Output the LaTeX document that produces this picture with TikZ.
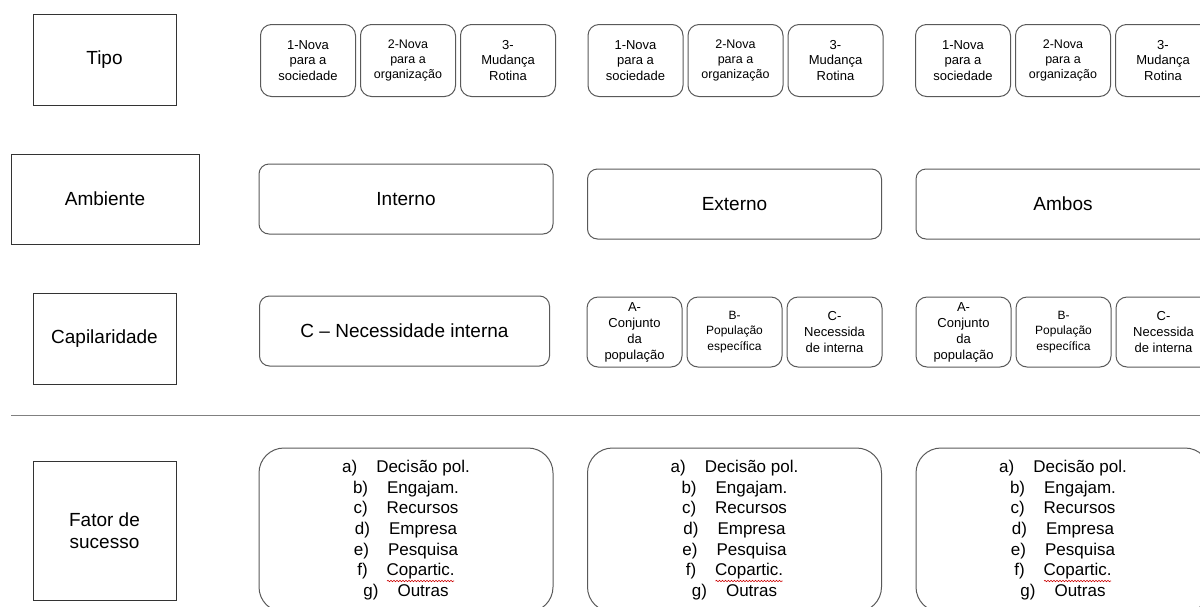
\documentclass[tikz,border=0pt]{standalone}
\usepackage{fontspec}
\setmainfont{Liberation Sans}
\usetikzlibrary{positioning,decorations.pathmorphing}

\begin{document}
\begin{tikzpicture}[x=1pt,y=-1pt,line width=1pt,
    cat/.style={draw=black!80,rectangle,inner sep=0pt,align=center,
      font=\fontsize{19}{22}\selectfont},
    opt/.style={draw=black!65,rounded corners=11pt,inner sep=0pt,align=center,
      minimum width=95pt,minimum height=72pt,font=\fontsize{13}{15.5}\selectfont},
    wide/.style={draw=black!65,rounded corners=10pt,inner sep=0pt,
      minimum width=294pt,minimum height=70pt,font=\fontsize{19}{22}\selectfont},
    fat/.style={draw=black!65,rounded corners=25pt,inner sep=0pt,align=center,
      minimum width=294pt,minimum height=164pt,font=\fontsize{17}{20.6}\selectfont}]

  \useasboundingbox (0,0) rectangle (1200,606);
  \clip (0,0) rectangle (1200,606);

  \node[cat,minimum width=143pt,minimum height=91pt] (tipo) at (104.5,59.5) {Tipo};
  \node[cat,minimum width=188pt,minimum height=90pt] (amb) at (105,199) {Ambiente};
  \node[cat,minimum width=143pt,minimum height=91pt] (cap) at (104.5,338.5) {Capilaridade};
  \node[cat,minimum width=143pt,minimum height=139pt] (fat) at (104.5,530.5) {Fator de\\sucesso};

  \coordinate (sepL) at (11,415);
  \coordinate (sepR) at (1200,415);
  \draw[black!50] (sepL) -- (sepR);

  \foreach \g/\x in {1/308,2/635.5,3/963}{
    \node[opt] (tipo\g-1) at (\x,60.5) {1-Nova\\para a\\sociedade};
    \node[opt,right=4pt of tipo\g-1,font=\fontsize{12.5}{15}\selectfont] (tipo\g-2)
      {2-Nova\\para a\\organização};
    \node[opt,right=4pt of tipo\g-2] (tipo\g-3) {3-\\Mudança\\Rotina};
  }

  \node[wide] (interno) at (406,199) {Interno};
  \node[wide] (externo) at (734.5,204) {Externo};
  \node[wide] (ambos) at (1063,204) {Ambos};

  \node[wide,minimum width=290pt] (necint) at (404.5,331) {C – Necessidade interna};
  \foreach \g/\x in {2/634.5,3/963.5}{
    \node[opt,minimum height=70pt,font=\fontsize{13}{16}\selectfont] (cap\g-a) at (\x,332)
      {A-\\Conjunto\\da\\população};
    \node[opt,minimum height=70pt,right=4pt of cap\g-a,font=\fontsize{12}{15.5}\selectfont] (cap\g-b)
      {B-\\População\\específica};
    \node[opt,minimum height=70pt,right=4pt of cap\g-b,font=\fontsize{13}{16}\selectfont] (cap\g-c)
      {C-\\Necessida\\de interna};
  }

  \foreach \g/\x in {1/406,2/734.5,3/1063}{
    \node[fat] (fator\g) at (\x,530) {a)\hspace*{19pt}Decisão pol.\\
      b)\hspace*{19pt}Engajam.\\
      c)\hspace*{19pt}Recursos\\
      d)\hspace*{19pt}Empresa\\
      e)\hspace*{19pt}Pesquisa\\
      f)\hspace*{19pt}Copartic.\\
      g)\hspace*{19pt}Outras};
    \coordinate (wl\g) at ([xshift=-19pt,yshift=-51pt]fator\g.center);
    \coordinate (wr\g) at ([xshift=48pt,yshift=-51pt]fator\g.center);
    \draw[red!80!black,line width=0.6pt,decorate,
      decoration={snake,segment length=3pt,amplitude=0.7pt}] (wl\g) -- (wr\g);
  }
\end{tikzpicture}
\end{document}
